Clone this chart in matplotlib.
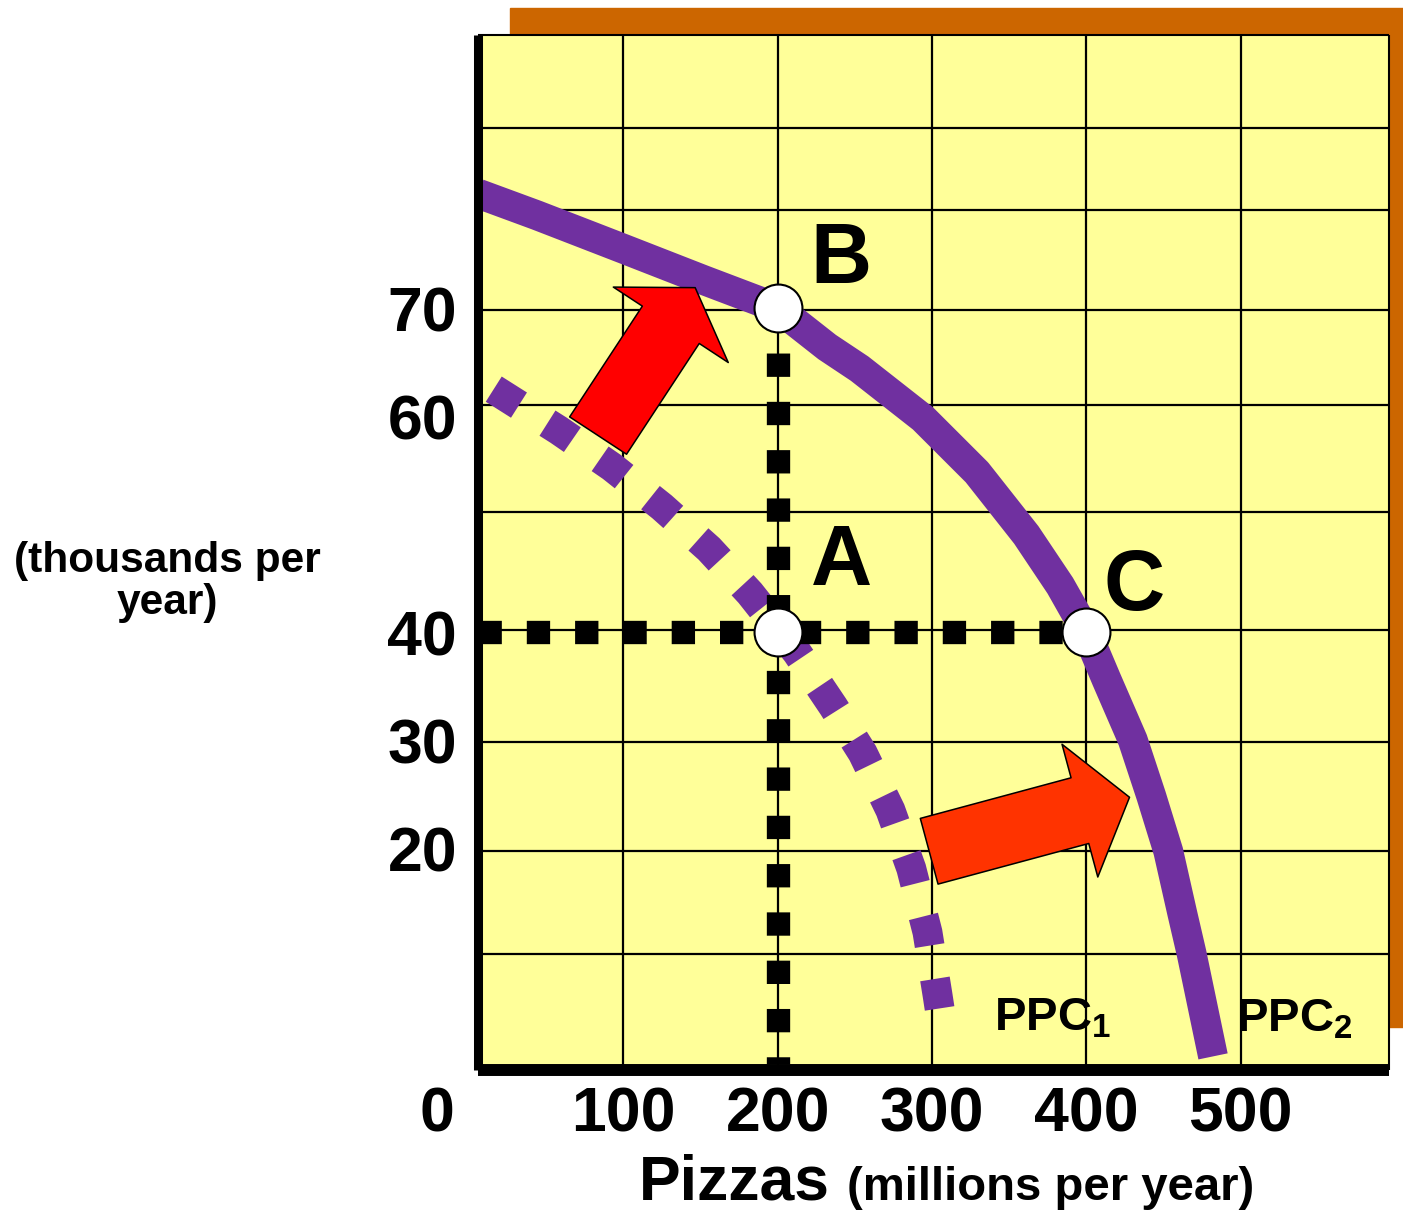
import matplotlib
matplotlib.use("Agg")
from matplotlib import pyplot as plt
from matplotlib.patches import FancyArrowPatch, Rectangle, ArrowStyle

plt.rcParams['font.family'] = ['Liberation Sans', 'DejaVu Sans']
plt.rcParams['font.weight'] = 'bold'
plt.rcParams['mathtext.fontset'] = 'custom'
plt.rcParams['mathtext.rm'] = 'Liberation Sans:bold'
plt.rcParams['mathtext.bf'] = 'Liberation Sans:bold'

W, H = 1403, 1216

# ---- datos ----
# curva PPC1 (punteada)
pizzas_ppc1 = [16, 58, 92.5, 125, 155.5, 182, 212.5, 236, 255, 273, 286.5, 297, 303.5, 305]
robots_ppc1 = [62.5, 58.7, 55.3, 51.6, 47.7, 43.6, 38.1, 33.1, 28.8, 23.5, 18.1, 12.2, 6.4, 5.0]

# curva PPC2 (continua)
pizzas_ppc2 = [6, 44, 100, 152, 200, 232, 253, 294, 329, 361, 383, 400, 413, 430, 442, 453, 462, 468, 482]
robots_ppc2 = [80.6, 78.6, 75.5, 72.6, 70.0, 66.4, 64.4, 59.8, 54.8, 49.0, 44.3, 40.0, 35.6, 30.0, 24.8,
               19.7, 14.0, 10.3, 0.7]

# puntos A, B, C
point_names = ['A', 'B', 'C']
point_pizzas = [200, 200, 400]
point_robots = [40, 70, 40]

x_ticks = [100, 200, 300, 400, 500]
y_ticks = [20, 30, 40, 60, 70]
grid_rows = [10.2, 19.7, 29.8, 40.2, 51.1, 61.0, 69.8, 79.1, 86.7]

# flechas de desplazamiento
shift_from = [(83.6, 58.2), (298.1, 19.7)]
shift_to = [(146.5, 71.9), (427.9, 24.7)]

x_min, x_max = 5.8, 596
y_min, y_max = -0.56, 95.3

purple = '#7030A0'

fig = plt.figure(figsize=(W / 100, H / 100), dpi=100)

# sombra naranja detras del grafico
fig.patches.append(Rectangle((510 / W, 1 - 1027 / H), 1.0, (1027 - 8) / H,
                             transform=fig.transFigure, color='#CC6600', zorder=-1))

ax = fig.add_axes([478 / W, 1 - 1070 / H, (1389 - 478) / W, (1070 - 35) / H])
ax.set_facecolor('#FFFF99')
ax.set_xlim(x_min, x_max)
ax.set_ylim(y_min, y_max)

# grilla
for gx in x_ticks:
    ax.axvline(gx, color='black', lw=1.6, zorder=1)
for gy in grid_rows:
    ax.axhline(gy, color='black', lw=1.6, zorder=1)

# curvas
ax.plot(pizzas_ppc2, robots_ppc2, color=purple, lw=21.5, solid_capstyle='butt',
        solid_joinstyle='round', zorder=2)
ax.plot(pizzas_ppc1, robots_ppc1, color=purple, lw=21.5, linestyle=(0, (1.0, 1.13)),
        dash_capstyle='butt', dash_joinstyle='miter', zorder=2.1)

# lineas guia punteadas negras
pa = (point_pizzas[0], point_robots[0])
pb = (point_pizzas[1], point_robots[1])
pc = (point_pizzas[2], point_robots[2])
guia = dict(color='black', lw=16.8, dash_capstyle='butt', zorder=3)
ax.plot([pb[0], pa[0]], [pb[1], pa[1]], linestyle=(0.14, (1.0, 1.07)), **guia)
ax.plot([pa[0], pa[0]], [0, pa[1]], linestyle=(0.69, (1.0, 1.07)), **guia)
ax.plot([x_min, pa[0]], [pa[1], pa[1]], linestyle=(0, (1.0, 1.07)), **guia)
ax.plot([pa[0], pc[0]], [pa[1], pc[1]], linestyle=(1.24, (1.0, 1.07)), **guia)

# flechas
arrow_colors = ['#FF0000', '#FF3300']
head_lengths = [32, 37]
for tail, tip, col, hl in zip(shift_from, shift_to, arrow_colors, head_lengths):
    arr = FancyArrowPatch(posA=tail, posB=tip,
                          arrowstyle=ArrowStyle.Simple(head_length=hl, head_width=99, tail_width=49),
                          mutation_scale=1, shrinkA=0, shrinkB=0,
                          fc=col, ec='black', lw=1.1, zorder=4)
    ax.add_patch(arr)

# puntos
ax.plot(point_pizzas, point_robots, 'o', ms=34.5, mfc='white', mec='black', mew=1.5,
        zorder=5, clip_on=False)

label_offsets = {'A': (45.6, 34), 'B': (45.6, 18), 'C': (34.6, 15.8)}
for name, px, py in zip(point_names, point_pizzas, point_robots):
    ax.annotate(name, xy=(px, py), xytext=label_offsets[name], textcoords='offset points',
                ha='center', va='baseline', fontsize=61, zorder=6)

ax.text(340.2, 3.1, 'PPC$_1$', fontsize=34, ha='left', va='baseline', zorder=6)
ax.text(497.1, 3.0, 'PPC$_2$', fontsize=34, ha='left', va='baseline', zorder=6)

# ejes
ax.set_xticks(x_ticks)
ax.set_yticks(y_ticks)
ax.tick_params(axis='both', length=0, labelsize=45)
ax.tick_params(axis='x', pad=11)
ax.tick_params(axis='y', pad=15)
for lab in ax.get_xticklabels() + ax.get_yticklabels():
    lab.set_fontweight('bold')

ax.spines['left'].set_linewidth(6.5)
ax.spines['bottom'].set_linewidth(8.6)
ax.spines['top'].set_linewidth(1.5)
ax.spines['right'].set_linewidth(1.5)
for sp in ax.spines.values():
    sp.set_zorder(7)
    sp.set_capstyle('butt')

fig.text(437 / W, 1 - 1085 / H, '0', fontsize=45, ha='center', va='top')
fig.text(167 / W, 1 - 582 / H, '(thousands per\nyear)', fontsize=30.6, ha='center',
         va='center', multialignment='center', linespacing=1.05)
fig.text(639 / W, 1 - 1200 / H, 'Pizzas', fontsize=45, ha='left', va='baseline')
fig.text(847 / W, 1 - 1200 / H, '(millions per year)', fontsize=34, ha='left', va='baseline')

fig.savefig('out.png', dpi=100)
